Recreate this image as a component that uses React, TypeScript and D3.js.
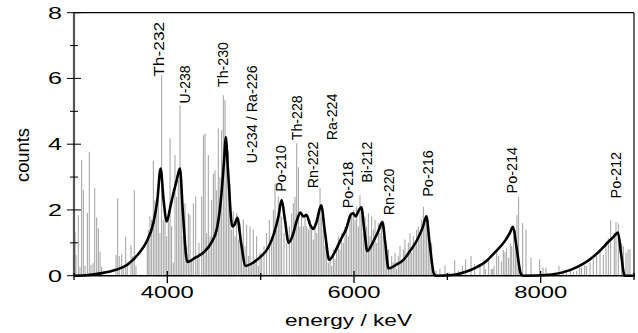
import React from "react";
import * as d3 from "d3";

// Histogram bars (energy keV, counts)
const barEnergies = [
  3011, 3021, 3046, 3064, 3082, 3100, 3118, 3143, 3164, 3182, 3204, 3222, 3243, 3261, 3279, 3297,
  3450, 3468, 3485, 3511, 3528, 3554, 3571, 3611, 3629, 3646, 3664,
  3785, 3796, 3814, 3832, 3850, 3868, 3886, 3903, 3921, 3939, 3957, 3975, 3993, 4011, 4029, 4046,
  4064, 4082, 4100, 4118, 4136, 4154, 4171, 4189, 4207, 4225, 4243, 4261, 4279, 4304, 4321, 4339,
  4368, 4386, 4404, 4421, 4439, 4457, 4475, 4493, 4511, 4529, 4546, 4564, 4582, 4600, 4618, 4636,
  4654, 4671, 4689, 4707, 4725, 4743, 4761, 4779, 4796, 4814, 4832, 4850, 4868, 4886, 4904, 4921,
  4939, 4957, 4975, 4993,
  5011, 5036, 5064, 5093, 5118, 5136, 5154, 5171, 5189, 5207, 5225, 5250, 5279, 5307, 5332, 5350,
  5368, 5386, 5404, 5421, 5439, 5457, 5475, 5493, 5511, 5529, 5546, 5564, 5582, 5600, 5618, 5636,
  5654, 5671, 5689, 5707, 5725, 5743, 5761, 5779, 5796, 5814, 5832, 5850, 5868, 5886, 5904, 5921,
  5939, 5957, 5975, 5993, 6011, 6029, 6046, 6064, 6082, 6100,
  6118, 6136, 6154, 6171, 6189, 6207, 6225, 6243, 6261, 6279, 6296, 6314, 6332, 6350, 6368, 6386,
  6404, 6421, 6439, 6457, 6475, 6493, 6511, 6529, 6546, 6564, 6582, 6600, 6618, 6636, 6654, 6671,
  6689, 6707, 6725, 6743, 6761, 6779, 6796, 6814, 6832, 6850, 6879, 6921, 6975, 7018,
  7079, 7118, 7161, 7196, 7254, 7293,
  7350, 7393, 7407, 7443, 7471, 7486, 7500, 7529, 7550, 7579, 7600, 7618, 7636, 7657, 7675, 7690,
  7711, 7729, 7746, 7764, 7807, 7843, 7896, 7989, 8025,
  8057, 8154, 8196, 8239, 8275, 8318, 8350, 8386, 8418, 8439, 8471, 8493, 8529, 8564, 8600, 8636,
  8671, 8700, 8725, 8750, 8789, 8807, 8832, 8868, 8886, 8914, 8936, 8957
];
const barCounts = [
  1.34, 0.63, 1.84, 0.27, 3.52, 2.6, 0.3, 1.91, 3.77, 0.33, 0.38, 2.66, 1.77, 1.44, 0.73, 0.27,
  0.63, 2.35, 0.6, 0.65, 0.27, 1.19, 0.4, 0.93, 0.6, 2.6, 0.3,
  1.03, 1.39, 1.8, 1.7, 3.5, 2.3, 2.0, 2.3, 1.3, 6.1, 1.7, 1.7, 1.2, 2.0, 4.18, 1.5,
  0.4, 3.67, 2.4, 2.9, 5.19, 2.7, 1.2, 2.2, 0.9, 1.9, 1.85, 0.5, 2.2, 2.4, 0.6, 1.0,
  2.4, 4.27, 4.33, 1.3, 3.67, 1.2, 2.3, 3.1, 3.2, 2.6, 4.48, 3.0, 4.43, 5.49, 5.34, 4.2,
  3.8, 2.8, 1.4, 1.95, 1.2, 1.9, 1.1, 1.6, 0.8, 1.7, 0.9, 1.55, 0.6, 1.5, 0.4, 1.4,
  0.5, 1.2, 0.3, 0.7,
  0.58, 0.9, 1.3, 1.7, 1.1, 2.0, 2.8, 1.4, 2.4, 2.2, 1.8, 1.3, 1.0, 1.5, 1.9, 2.2,
  2.4, 4.03, 3.3, 1.5, 1.9, 1.5, 1.8, 1.5, 1.4, 1.7, 1.4, 1.1, 1.6, 1.3, 1.9, 2.66,
  1.8, 1.4, 0.9, 1.0, 0.4, 0.6, 0.3, 0.8, 0.5, 0.9, 1.2, 0.8, 1.3, 1.0, 1.5, 1.6,
  1.2, 1.8, 1.9, 2.0, 1.7, 2.1, 1.5, 2.45, 2.0, 1.3,
  1.8, 1.5, 1.9, 1.2, 1.8, 1.4, 1.7, 1.0, 1.6, 1.3, 1.64, 1.2, 0.9, 0.5, 0.8, 0.3,
  0.6, 0.4, 0.7, 0.2, 0.6, 0.9, 0.4, 0.8, 1.1, 0.5, 1.0, 1.3, 0.7, 1.2, 1.0, 1.4,
  1.5, 1.2, 1.7, 2.1, 1.6, 1.7, 1.3, 0.8, 1.0, 0.3, 0.15, 0.2, 0.3, 0.1,
  0.48, 0.15, 0.3, 0.5, 0.6, 0.35,
  0.33, 0.48, 0.2, 0.53, 0.2, 0.2, 0.3, 0.78, 0.6, 0.43, 0.78, 0.72, 0.85, 0.55, 0.98, 0.9,
  1.19, 1.39, 1.84, 2.39, 1.6, 1.4, 0.55, 0.5, 0.25, 0.25, 0.1, 0.3, 0.12,
  0.1, 0.15, 0.12, 0.15, 0.25, 0.25, 0.3, 0.3, 0.4, 0.5, 0.6, 0.8, 0.63, 0.93, 1.14, 1.69,
  1.3, 1.64, 1.59, 1.0, 0.9, 0.7, 0.8, 0.8, 0.3, 0.2, 0.15, 0.1
];

// Fitted spectrum curve (energy keV, counts)
const fitEnergies = [
  3000, 3150, 3280, 3450, 3575, 3700, 3780, 3850, 3893, 3928, 3960, 3993, 4040, 4100, 4135, 4165,
  4214, 4300, 4393, 4470, 4536, 4580, 4610, 4625, 4650, 4696, 4720, 4750, 4790, 4839, 4920, 5000,
  5080, 5143, 5190, 5225, 5260, 5300, 5340, 5390, 5425, 5460, 5490, 5530, 5564, 5600, 5648, 5690,
  5735, 5800, 5857, 5920, 5964, 5990, 6018, 6045, 6079, 6110, 6143, 6200, 6260, 6304, 6335, 6370,
  6450, 6536, 6600, 6679, 6740, 6775, 6810, 6857, 6880, 7050, 7200, 7321, 7420, 7500, 7625, 7670,
  7703, 7740, 7786, 7810, 8100, 8314, 8450, 8564, 8650, 8707, 8780, 8829, 8860, 8900, 9000
];
const fitCounts = [
  0, 0.02, 0.07, 0.18, 0.34, 0.7, 1.05, 1.6, 2.3, 3.26, 2.3, 1.65, 2.2, 2.9, 3.26, 2.0,
  0.42, 0.55, 0.72, 1.0, 1.5, 2.5, 3.6, 4.22, 3.2, 1.5, 1.55, 1.76, 1.0, 0.3, 0.4, 0.58,
  0.85, 1.29, 1.8, 2.3, 1.7, 1.0, 1.2, 1.7, 1.92, 1.8, 1.85, 1.55, 1.42, 1.65, 2.14, 1.3,
  0.48, 0.75, 1.09, 1.45, 1.85, 1.9, 1.8, 1.95, 2.08, 1.4, 0.75, 1.0, 1.35, 1.63, 1.0, 0.22,
  0.33, 0.5, 0.75, 1.1, 1.5, 1.81, 1.0, 0.05, 0, 0.02, 0.12, 0.27, 0.45, 0.68, 1.09, 1.3,
  1.49, 0.9, 0.07, 0, 0.03, 0.17, 0.35, 0.58, 0.8, 0.98, 1.18, 1.31, 0.7, 0, 0
];

// Nuclide annotations
const labelNames = [
  "Th-232", "U-238", "Th-230", "U-234 / Ra-226", "Po-210", "Th-228", "Rn-222", "Ra-224",
  "Po-218", "Bi-212", "Rn-220", "Po-216", "Po-214", "Po-212"
];
const labelEnergies = [3895, 4179, 4591, 4894, 5207, 5376, 5545, 5754, 5922, 6132, 6359, 6782, 7680, 8794];
const labelBaseCounts = [6.05, 5.24, 5.74, 3.42, 2.55, 4.12, 2.66, 4.12, 2.05, 2.83, 1.84, 2.4, 2.5, 2.35];
const labelLengths = [55, 38, 45, 98, 46.7, 45, 46.6, 46.7, 46.6, 41, 46.7, 46.7, 46.6, 46.6];

const xMajorTicks = [4000, 6000, 8000];
const xMinorTicks = [3000, 5000, 7000, 9000];
const yMajorTicks = [0, 2, 4, 6, 8];
const yMinorTicks = [1, 3, 5, 7];

const W = 638;
const H = 333;

export default function App() {
  const x = d3.scaleLinear().domain([3000, 9000]).range([74, 634]);
  const y = d3.scaleLinear().domain([0, 8]).range([275.7, 12.7]);
  const fitData = fitEnergies.map((e, i) => [e, fitCounts[i]] as [number, number]);
  const line = d3
    .line<[number, number]>()
    .x((d) => x(d[0]))
    .y((d) => y(d[1]))
    .curve(d3.curveMonotoneX);
  const font = "'Liberation Sans', Arial, Helvetica, sans-serif";
  const [x0, x1] = x.range();
  const [y0, y1] = y.range();

  return (
    <svg
      width={W}
      height={H}
      style={{ position: "fixed", left: 0, top: 0, background: "#fff" }}
      fontFamily={font}
    >
      <rect x={0} y={0} width={W} height={H} fill="#fff" />
      {/* bars */}
      <g stroke="#a0a0a0" strokeWidth={1}>
        {barEnergies.map((e, i) => (
          <line key={i} x1={x(e)} x2={x(e)} y1={y(0)} y2={y(barCounts[i])} />
        ))}
      </g>
      {/* fit curve */}
      <path d={line(fitData) || ""} fill="none" stroke="#000" strokeWidth={2.6} strokeLinejoin="round" />
      {/* frame */}
      <line x1={x0} x2={x1} y1={y1} y2={y1} stroke="#000" strokeWidth={1.2} />
      <line x1={x1} x2={x1} y1={y1} y2={y0} stroke="#000" strokeWidth={1.2} />
      <line x1={x0} x2={x1 + 1} y1={y0} y2={y0} stroke="#000" strokeWidth={1.6} />
      <line x1={x0} x2={x0} y1={y1} y2={y0 + 1} stroke="#555" strokeWidth={2.2} />
      {/* ticks */}
      <g stroke="#000" strokeWidth={1}>
        {yMajorTicks.map((t) => (
          <line key={"ym" + t} x1={67} x2={81} y1={y(t)} y2={y(t)} />
        ))}
        {yMinorTicks.map((t) => (
          <line key={"yn" + t} x1={70} x2={78} y1={y(t)} y2={y(t)} />
        ))}
        {xMajorTicks.map((t) => (
          <line key={"xm" + t} x1={x(t)} x2={x(t)} y1={271} y2={283} strokeWidth={1.3} />
        ))}
        {xMinorTicks.map((t) => (
          <line key={"xn" + t} x1={x(t)} x2={x(t)} y1={273} y2={280} strokeWidth={1.3} />
        ))}
      </g>
      {/* y tick labels */}
      {yMajorTicks.map((t) => (
        <text
          key={"yl" + t}
          x={62}
          y={y(t) + 6}
          textAnchor="end"
          fontSize={16.5}
          fill="#000"
          textLength={14}
          lengthAdjust="spacingAndGlyphs"
        >
          {t}
        </text>
      ))}
      {/* x tick labels */}
      {xMajorTicks.map((t) => (
        <text
          key={"xl" + t}
          x={x(t) - 26.5}
          y={298.3}
          fontSize={16.5}
          fill="#000"
          textLength={53}
          lengthAdjust="spacingAndGlyphs"
        >
          {t}
        </text>
      ))}
      {/* axis titles */}
      <text
        x={285}
        y={325.5}
        fontSize={17}
        fill="#000"
        textLength={127}
        lengthAdjust="spacingAndGlyphs"
      >
        energy / keV
      </text>
      <text
        transform={`translate(28.5,182) rotate(-90)`}
        fontSize={18.5}
        fill="#000"
        textLength={54}
        lengthAdjust="spacingAndGlyphs"
      >
        counts
      </text>
      {/* nuclide labels */}
      {labelNames.map((n, i) => (
        <text
          key={n}
          transform={`translate(${x(labelEnergies[i]) + 6},${y(labelBaseCounts[i])}) rotate(-90)`}
          fontSize={15.5}
          fill="#000"
          textLength={labelLengths[i]}
          lengthAdjust="spacingAndGlyphs"
        >
          {n}
        </text>
      ))}
    </svg>
  );
}
